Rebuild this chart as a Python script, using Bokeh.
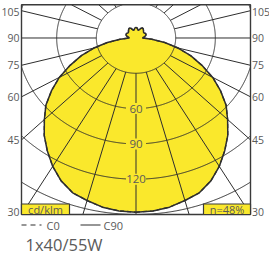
import numpy as np
from bokeh.plotting import figure
from bokeh.embed import file_html
from bokeh.resources import INLINE
from bokeh.core.properties import value

# ---------------- data (cd/klm) ----------------
angles = [0, 5, 10, 15, 20, 25, 30, 35, 40, 45, 50, 55, 60, 65, 70, 75, 80, 85, 90,
          95, 100, 105, 110, 115, 120, 125, 130, 135, 140, 145, 150, 155, 160, 165, 170, 175, 180]
c90 = [148, 147.5, 146, 143, 140, 134, 126, 117, 108, 98, 89, 78, 67, 55, 44, 33, 22, 12, 5,
       5.5, 6.5, 7.5, 8, 8.2, 8, 7.5, 7.5, 8, 8.8, 9.5, 9.8, 9.2, 7.5, 6.8, 7.5, 8.6, 9]
c0 = [148, 147.5, 146, 143, 140, 134, 126, 117, 108, 98, 89, 78, 67, 55, 44, 33, 22, 12, 5,
      5.5, 6.5, 7.5, 8, 8.2, 8, 7.5, 7.5, 8, 8.8, 9.5, 9.8, 9.2, 7.5, 6.8, 7.5, 8.6, 9]
ring_values = [30, 60, 90, 120, 150]
ring_labels = ["60", "90", "120"]
ring_label_values = [60, 90, 120]
angle_ticks = [30, 45, 60, 75, 90, 105]
grid_angles = list(range(0, 181, 15))
title_text = "1x40/55W"
unit_text = "cd/klm"
eff_text = "n=48%"
legend_names = ["C0", "C90"]

# ---------------- geometry ----------------
RMAX = 150.0
XMAX = RMAX * np.tan(np.radians(30))
YMIN, YMAX = -RMAX, 28.2

W, H = 269, 255
PAGE = 8
BOX_L, BOX_R, BOX_T, BOX_B = 29, 258, 12.3, 222   # page pixels of the frame box
PXX = (BOX_R - BOX_L) / (2 * XMAX)
PXY = (BOX_B - BOX_T) / (YMAX - YMIN)
CX = (BOX_L + BOX_R) / 2
CY = BOX_T + YMAX * PXY


def X(px):
    return (px - CX) / PXX


def Y(py):
    return (CY - py) / PXY


p = figure(width=W, height=H, x_range=(X(PAGE), X(PAGE + W)), y_range=(Y(PAGE + H), Y(PAGE)),
           x_axis_type=None, y_axis_type=None, toolbar_location=None, output_backend="svg",
           min_border=0)
p.outline_line_color = None
p.background_fill_color = "white"
p.border_fill_color = "white"

YELLOW = "#fae82c"
DARK = "#2e2e2e"
GRAY = "#5a5a5a"
FONT = value("Open Sans")

# ---------------- light distribution ----------------
th = np.radians(np.array(angles, dtype=float))
I90 = np.array(c90, dtype=float)
I0 = np.array(c0, dtype=float)
xs = np.concatenate([I90 * np.sin(th), -(I90 * np.sin(th))[::-1]])
ys = np.concatenate([-I90 * np.cos(th), (-I90 * np.cos(th))[::-1]])
p.patch(xs, ys, fill_color=YELLOW, line_color=None)

# ---------------- grid ----------------
t = np.radians(np.arange(0, 360.01, 0.25))
for r in ring_values:
    gx = r * np.sin(t)
    gy = r * np.cos(t)
    out = (np.abs(gx) > XMAX) | (gy < YMIN) | (gy > YMAX)
    gx = np.where(out, np.nan, gx)
    gy = np.where(out, np.nan, gy)
    p.line(gx, gy, line_color=DARK, line_width=1)

rx, ry = [], []
for a in grid_angles:
    for sgn in (1, -1):
        if a in (0, 180) and sgn == -1:
            continue
        dx = sgn * np.sin(np.radians(a))
        dy = -np.cos(np.radians(a))
        lims = []
        if abs(dx) > 1e-9:
            lims.append(XMAX / abs(dx))
        if dy < -1e-9:
            lims.append(YMIN / dy)
        elif dy > 1e-9:
            lims.append(YMAX / dy)
        tm = min(lims)
        if tm <= ring_values[0]:
            continue
        r0 = ring_values[0]
        rx.append([r0 * dx, tm * dx])
        ry.append([r0 * dy, tm * dy])
p.multi_line(rx, ry, line_color=DARK, line_width=1)

# curves
x0 = np.concatenate([I0 * np.sin(th), -(I0 * np.sin(th))[::-1]])
y0 = np.concatenate([-I0 * np.cos(th), (-I0 * np.cos(th))[::-1]])
p.line(x0, y0, line_color=DARK, line_width=1.3, line_dash="4 3")
p.line(xs, ys, line_color=DARK, line_width=1.5)

# ring labels
p.rect([0] * len(ring_label_values), [-v for v in ring_label_values], width=20, height=11,
       width_units="screen", height_units="screen", fill_color=YELLOW, line_color=None)
p.text([0] * len(ring_label_values), [-v for v in ring_label_values], text=ring_labels,
       text_font=FONT, text_font_size="11.5px", text_color=GRAY,
       text_align="center", text_baseline="middle")

# frame box
p.quad(left=-XMAX, right=XMAX, bottom=YMIN, top=YMAX, fill_color=None,
       line_color="#3a3a3a", line_width=1.4)

# angle labels
for a in angle_ticks:
    yy = -XMAX / np.tan(np.radians(a)) if a != 90 else 0.0
    off = 0
    if yy <= YMIN:
        yy = YMIN
        off = -3
    if a == 105:
        off = 1
    p.text([-XMAX], [yy], text=[str(a)], text_font=FONT, text_font_size="10.5px",
           text_color=GRAY, text_align="right", text_baseline="middle", x_offset=-2, y_offset=off)
    p.text([XMAX], [yy], text=[str(a)], text_font=FONT, text_font_size="10.5px",
           text_color=GRAY, text_align="left", text_baseline="middle", x_offset=1.5, y_offset=off)

# unit and efficiency boxes
p.quad(left=-XMAX, right=X(77), bottom=YMIN, top=Y(211.5), fill_color=YELLOW,
       line_color="#3a3a3a", line_width=1.2)
p.quad(left=X(211), right=XMAX, bottom=YMIN, top=Y(211.5), fill_color=YELLOW,
       line_color="#3a3a3a", line_width=1.2)
p.text([(-XMAX + X(77)) / 2], [Y(216.5)], text=[unit_text], text_font=FONT, text_font_size="11px",
       text_color=GRAY, text_align="center", text_baseline="middle")
p.text([(X(211) + XMAX) / 2], [Y(216.5)], text=[eff_text], text_font=FONT, text_font_size="11px",
       text_color=GRAY, text_align="center", text_baseline="middle")

# legend
p.line([X(29), X(51)], [Y(232.5), Y(232.5)], line_color=DARK, line_width=1.2, line_dash="5 4 5 4 2 4")
p.text([X(54)], [Y(232.5)], text=[legend_names[0]], text_font=FONT, text_font_size="11px",
       text_color=GRAY, text_align="left", text_baseline="middle")
p.line([X(88), X(108)], [Y(232.5), Y(232.5)], line_color=DARK, line_width=1.2)
p.text([X(111)], [Y(232.5)], text=[legend_names[1]], text_font=FONT, text_font_size="11px",
       text_color=GRAY, text_align="left", text_baseline="middle")

# title
p.text([X(33)], [Y(252)], text=[title_text], text_font=FONT, text_font_size="16.5px",
       text_color=GRAY, text_align="left", text_baseline="middle")

open("out.html", "w").write(file_html(p, INLINE))
